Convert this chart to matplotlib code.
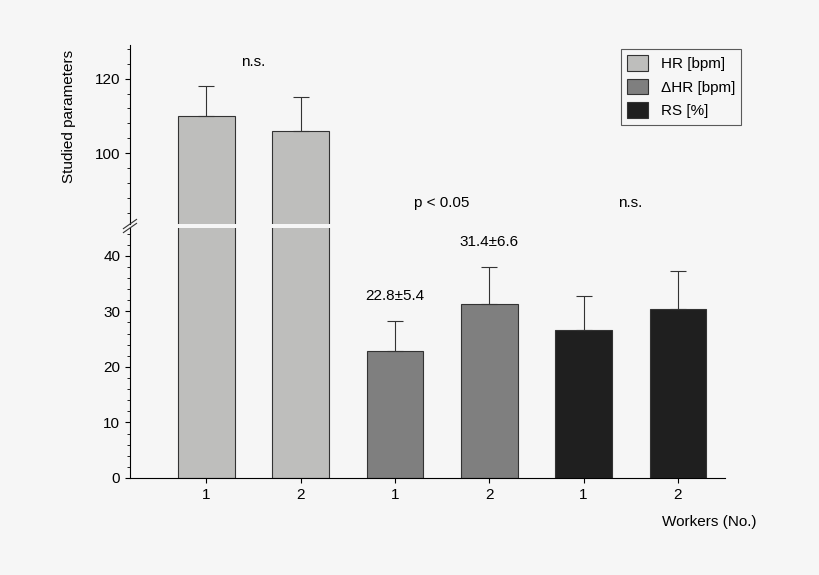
import numpy as np
import matplotlib.pyplot as plt
from matplotlib.ticker import MultipleLocator
from matplotlib.patches import Patch

plt.rcParams['font.family'] = ['Liberation Sans Narrow', 'Liberation Sans', 'DejaVu Sans']
plt.rcParams['font.size'] = 11

workers = ['1', '2', '1', '2', '1', '2']
hr = [110, 106]
hr_err = [8, 9]
dhr = [22.8, 31.4]
dhr_err = [5.4, 6.6]
rs = [26.7, 30.5]
rs_err = [6.1, 6.7]

values = hr + dhr + rs
errors = hr_err + dhr_err + rs_err
colors = ['#bebebc'] * 2 + ['#7f7f7f'] * 2 + ['#1f1f1f'] * 2
x = np.arange(len(values))
bg = '#f6f6f6'

fig = plt.figure(figsize=(8.2, 5.75), dpi=100, facecolor=bg)
ax_lo = fig.add_axes([0.1585, 0.1687, 0.7256, 0.4348], facecolor=bg)
ax_hi = fig.add_axes([0.1585, 0.6104, 0.7256, 0.3113])
ax_hi.patch.set_alpha(0)

for ax in (ax_lo, ax_hi):
    ax.bar(x, values, width=0.6, color=colors, edgecolor='#333333', linewidth=0.8)
    ax.errorbar(x, values, yerr=[np.zeros(len(errors)), errors], fmt='none',
                ecolor='#333333', elinewidth=0.8, capsize=6, capthick=0.8)
    ax.set_xlim(-0.81, 5.5)
    ax.spines['right'].set_visible(False)
    ax.spines['top'].set_visible(False)

ax_lo.set_ylim(0, 45)
ax_lo.yaxis.set_major_locator(MultipleLocator(10))
ax_lo.yaxis.set_minor_locator(MultipleLocator(2))
ax_lo.set_xticks(x)
ax_lo.set_xticklabels(workers)

ax_hi.set_ylim(81, 129)
ax_hi.yaxis.set_major_locator(MultipleLocator(20))
ax_hi.yaxis.set_minor_locator(MultipleLocator(4))
ax_hi.spines['bottom'].set_visible(False)
ax_hi.set_xticks([])
ax_hi.set_ylabel('Studied parameters')
ax_hi.yaxis.set_label_coords(-0.09, 0.6)

# break marks
d = 0.008
kw = dict(transform=fig.transFigure, color='#333333', lw=0.8, clip_on=False)
for yy in (0.6035, 0.6104):
    fig.add_artist(plt.Line2D([0.1585 - d, 0.1585 + d], [yy - d, yy + d], **kw))

handles = [Patch(facecolor=c, edgecolor='#333333', linewidth=0.8) for c in ['#bebebc', '#7f7f7f', '#1f1f1f']]
leg = ax_hi.legend(handles, ['HR [bpm]', '\u0394HR [bpm]', 'RS [%]'], loc='upper right',
                   bbox_to_anchor=(1.04, 1.02), frameon=True, fancybox=False,
                   edgecolor='#333333', facecolor=bg, handlelength=1.4, handleheight=1.2)
leg.get_frame().set_linewidth(0.8)

ax_hi.text(0.5, 124.5, 'n.s.', ha='center', va='center')
ax_lo.text(2.5, 49.5, 'p < 0.05', ha='center', va='center', clip_on=False)
ax_lo.text(4.5, 49.5, 'n.s.', ha='center', va='center', clip_on=False)
ax_lo.text(2, 32.8, '22.8\u00b15.4', ha='center', va='center')
ax_lo.text(3, 42.5, '31.4\u00b16.6', ha='center', va='center')
ax_lo.text(5.33, -8, 'Workers (No.)', ha='center', va='center')

fig.savefig('out.png', dpi=100, facecolor=bg)
